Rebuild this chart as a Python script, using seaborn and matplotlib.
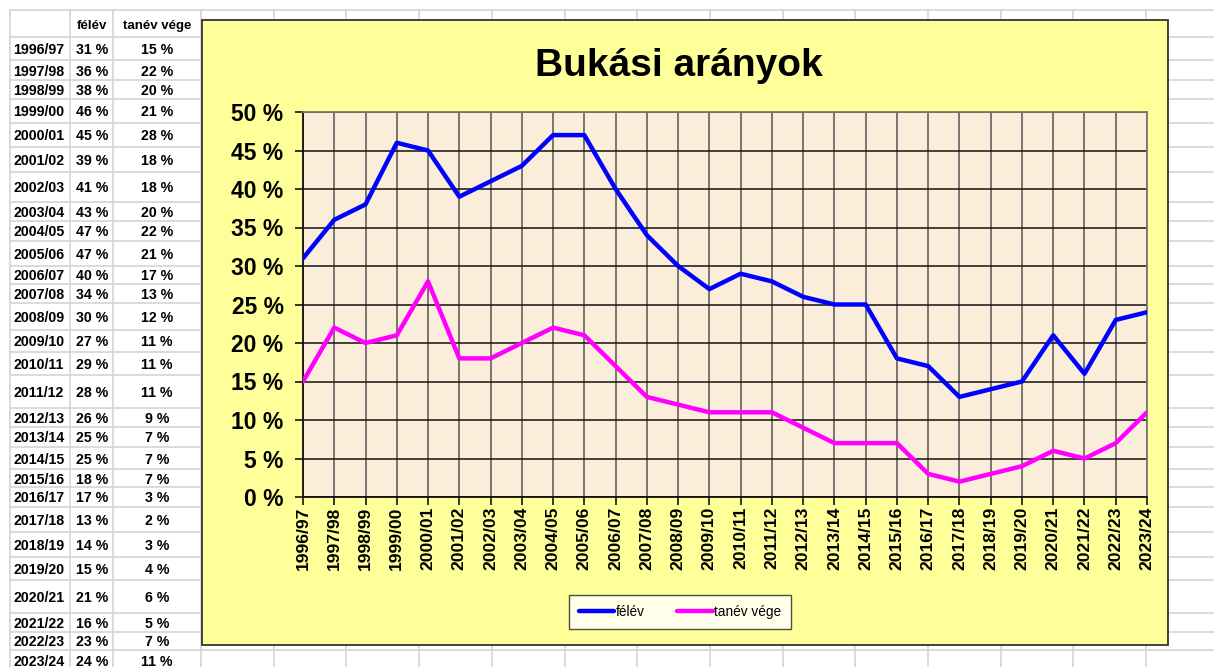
import matplotlib
matplotlib.use("Agg")
from matplotlib import pyplot as plt
from matplotlib.patches import Rectangle
from matplotlib.lines import Line2D
import pandas as pd
import seaborn as sns

# adatok
tanevek = ["1996/97", "1997/98", "1998/99", "1999/00", "2000/01", "2001/02", "2002/03",
           "2003/04", "2004/05", "2005/06", "2006/07", "2007/08", "2008/09", "2009/10",
           "2010/11", "2011/12", "2012/13", "2013/14", "2014/15", "2015/16", "2016/17",
           "2017/18", "2018/19", "2019/20", "2020/21", "2021/22", "2022/23", "2023/24"]
felev = [31, 36, 38, 46, 45, 39, 41, 43, 47, 47, 40, 34, 30, 27, 29, 28, 26, 25, 25,
         18, 17, 13, 14, 15, 21, 16, 23, 24]
tanev_vege = [15, 22, 20, 21, 28, 18, 18, 20, 22, 21, 17, 13, 12, 11, 11, 11, 9, 7, 7,
              7, 3, 2, 3, 4, 6, 5, 7, 11]
sorozatok = ["félév", "tanév vége"]
y_tickek = list(range(0, 55, 5))

# tablazat sorhatarai (pixel)
sor_hatarok = [10, 37, 60, 80, 99, 123, 147, 172, 202, 221, 241, 266, 284, 303, 330, 352,
               375, 408, 427, 447, 469, 487, 507, 532, 557, 580, 613, 632, 650, 674]
oszlop_hatarok = [10, 70, 113, 201]
x0 = 201
while x0 < 1214:
    x0 += 72.7
    oszlop_hatarok.append(x0)

df = pd.DataFrame({
    "tanev": tanevek * 2,
    "arany": felev + tanev_vege,
    "sorozat": [sorozatok[0]] * len(tanevek) + [sorozatok[1]] * len(tanevek),
})

sns.set_style("white")
plt.rcParams["font.family"] = ["Liberation Sans", "DejaVu Sans"]
plt.rcParams["text.color"] = "black"
plt.rcParams["xtick.color"] = "black"
plt.rcParams["ytick.color"] = "black"

W, H = 1214, 667
fig = plt.figure(figsize=(W / 100, H / 100), dpi=100)

# hatter: excel racs + tablazat
bg = fig.add_axes([0, 0, 1, 1])
bg.set_xlim(0, W)
bg.set_ylim(H, 0)
bg.axis("off")
for y in sor_hatarok:
    bg.plot([10, W], [y, y], color="#d4d4d4", lw=1.2, zorder=1)
for x in oszlop_hatarok:
    bg.plot([x, x], [10, H], color="#d4d4d4", lw=1.2, zorder=1)

bg.text(92, 26, "félév", ha="center", va="center", fontsize=9.5, fontweight="bold")
bg.text(157, 26, "tanév vége", ha="center", va="center", fontsize=9.5, fontweight="bold")
for i, t in enumerate(tanevek):
    yc = (sor_hatarok[i + 1] + sor_hatarok[i + 2]) / 2 + 1.5
    if i == len(tanevek) - 1:
        yc = 662
    bg.text(13, yc, t, ha="left", va="center", fontsize=10.2, fontweight="bold")
    bg.text(92, yc, f"{felev[i]} %", ha="center", va="center", fontsize=10.2, fontweight="bold")
    bg.text(157, yc, f"{tanev_vege[i]} %", ha="center", va="center", fontsize=10.2, fontweight="bold")

# diagram terulet
bg.add_patch(Rectangle((202, 20), 966, 625, facecolor="#ffff99", edgecolor="#333333",
                       lw=1.3, zorder=3))
bg.text(679, 66, "Bukási arányok", ha="center", va="center", fontsize=28,
        fontweight="bold", zorder=4)

ax = fig.add_axes([303 / W, (H - 497) / H, (1147 - 303) / W, (497 - 112) / H])
ax.set_facecolor("#faeedb")

sns.lineplot(data=df, x="tanev", y="arany", hue="sorozat", palette=["#0000ff", "#ff00ff"],
             linewidth=3.2, sort=False, ax=ax, legend=False, zorder=5)

ax.set_xlim(0, len(tanevek) - 1)
ax.set_ylim(0, 50)
ax.set_xticks(range(len(tanevek)))
ax.set_xticklabels(tanevek, rotation=90, fontsize=12.6, fontweight="bold")
ax.set_yticks(y_tickek)
ax.set_yticklabels([f"{v} %" for v in y_tickek], fontsize=16.5, fontweight="bold")
ax.set_xlabel("")
ax.set_ylabel("")
ax.grid(axis="y", color="#111111", lw=1.1)
ax.grid(axis="x", color="#555555", lw=1.1)
ax.set_axisbelow(True)
ax.tick_params(axis="y", direction="out", length=6, width=1.1, pad=8, left=True)
ax.tick_params(axis="x", direction="out", length=6, width=1.1, pad=1, bottom=True)
for s in ["top", "right"]:
    ax.spines[s].set_color("#777777")
    ax.spines[s].set_linewidth(1.3)
for s in ["left", "bottom"]:
    ax.spines[s].set_color("#111111")
    ax.spines[s].set_linewidth(1.3)

kezelok = [Line2D([], [], color="#0000ff", lw=3.2), Line2D([], [], color="#ff00ff", lw=3.2)]
leg = fig.legend(kezelok, sorozatok, loc="center", bbox_to_anchor=(680 / W, (H - 612) / H),
                 ncol=2, fontsize=9.8, frameon=True, fancybox=False, handlelength=2.6,
                 handletextpad=0.1, columnspacing=2.4, borderpad=0.75)
leg.get_frame().set_edgecolor("#222222")
leg.get_frame().set_linewidth(1.0)
leg.set_zorder(10)

fig.savefig("out.png", dpi=100)
